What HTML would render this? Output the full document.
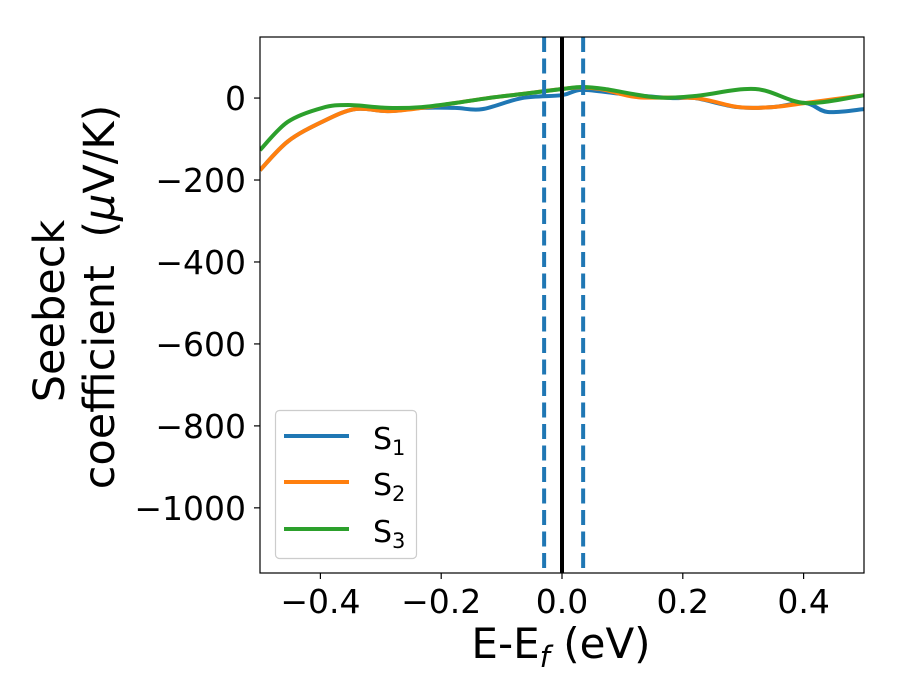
<!DOCTYPE html>
<html><head><meta charset="utf-8"><style>
body{margin:0;background:#fff;}
svg{display:block;font-family:"DejaVu Sans","Liberation Sans",sans-serif;}
</style></head><body>
<svg id="chart" width="900" height="700" viewBox="0 0 900 700">
<rect width="900" height="700" fill="#fff"/>
<g id="marks"></g>
<g id="axes"></g>
</svg>
<script>
const xTicks=[-0.4,-0.2,0.0,0.2,0.4];
const xTickLabels=["\u22120.4","\u22120.2","0.0","0.2","0.4"];
const yTicks=[0,-200,-400,-600,-800,-1000];
const yTickLabels=["0","\u2212200","\u2212400","\u2212600","\u2212800","\u22121000"];
const s1x=[-0.5,-0.454,-0.397,-0.343,-0.288,-0.232,-0.177,-0.132,-0.066,0.0,0.033,0.1,0.18,0.22,0.29,0.348,0.403,0.44,0.5];
const s1y=[-176,-106,-58,-27,-32,-24,-24,-27,0,7,20,10,0,0,-22,-22,-12,-34,-27];
const s2x=[-0.5,-0.454,-0.397,-0.343,-0.288,-0.232,-0.177,-0.122,-0.066,0.0,0.033,0.071,0.126,0.22,0.292,0.348,0.403,0.45,0.5];
const s2y=[-176,-106,-58,-27,-32,-24,-12,0,10,22,26,20,2,0,-22,-22,-12,-3,7];
const s3x=[-0.5,-0.454,-0.397,-0.354,-0.288,-0.232,-0.177,-0.122,-0.066,0.0,0.033,0.071,0.154,0.22,0.32,0.403,0.5];
const s3y=[-127,-58,-24,-17,-24,-22,-12,0,10,22,27,22,2,5,22,-12,7];
const vlines=[-0.0296,0.035];
const xMin=-0.5,xMax=0.5,yMin=-1159,yMax=149;
const L=260,R=864,T=37,B=573;
const X=v=>L+(v-xMin)/(xMax-xMin)*(R-L);
const Y=v=>T+(yMax-v)/(yMax-yMin)*(B-T);
const NS="http://www.w3.org/2000/svg";
function mk(tag,attrs,parent){const e=document.createElementNS(NS,tag);for(const k in attrs)e.setAttribute(k,attrs[k]);parent.appendChild(e);return e;}
function pathD(xs,ys){const p=xs.map((x,i)=>[X(x),Y(ys[i])]);let d="M"+p[0][0]+","+p[0][1];
for(let i=0;i<p.length-1;i++){const p0=p[i-1]||p[i],p1=p[i],p2=p[i+1],p3=p[i+2]||p2;
const c1=[p1[0]+(p2[0]-p0[0])/6,p1[1]+(p2[1]-p0[1])/6],c2=[p2[0]-(p3[0]-p1[0])/6,p2[1]-(p3[1]-p1[1])/6];
d+=" C"+c1+" "+c2+" "+p2;}return d;}
const marks=document.getElementById('marks');
const axes=document.getElementById('axes');
const cp=mk('clipPath',{id:'clip'},marks);mk('rect',{x:L,y:T,width:R-L,height:B-T},cp);
const series=[[s1x,s1y,'#1f77b4','series-s1'],[s2x,s2y,'#ff7f0e','series-s2'],[s3x,s3y,'#2ca02c','series-s3']];
series.forEach(s=>{const p=mk('path',{d:pathD(s[0],s[1]),fill:'none',stroke:s[2],'stroke-width':4,'clip-path':'url(#clip)'},marks);

});
vlines.forEach((v,i)=>{const l=mk('line',{x1:X(v),x2:X(v),y1:T,y2:B,stroke:'#1f77b4','stroke-width':4,'stroke-dasharray':'15,6.5'},marks);

});
const fl=mk('line',{x1:X(0),x2:X(0),y1:T,y2:B,stroke:'#000','stroke-width':4},marks);


const fr=mk('rect',{x:L,y:T,width:R-L,height:B-T,fill:'none',stroke:'#000','stroke-width':1.2},axes);


xTicks.forEach((v,i)=>{mk('line',{x1:X(v),x2:X(v),y1:B,y2:B+6,stroke:'#000','stroke-width':1.2},axes);
const t=mk('text',{x:X(v),y:B+40,'text-anchor':'middle','font-size':33},axes);t.textContent=xTickLabels[i];

});
yTicks.forEach((v,i)=>{mk('line',{x1:L-6,x2:L,y1:Y(v),y2:Y(v),stroke:'#000','stroke-width':1.2},axes);
const t=mk('text',{x:L-14,y:Y(v)+12,'text-anchor':'end','font-size':33},axes);t.textContent=yTickLabels[i];

});
</script>
<script>
const svg=document.getElementById('chart');
svg.insertAdjacentHTML('beforeend',`
<text x="561" y="658" text-anchor="middle" font-size="42">E-E<tspan font-style="italic" font-size="29" dy="9">f</tspan><tspan dy="-9"> (eV)</tspan></text>
<g transform="rotate(-90)" font-size="43" text-anchor="middle">
<text x="-311" y="64">Seebeck</text>
<text x="-297" y="114">coefficient&#160; (<tspan font-style="italic">μ</tspan>V/K)</text>
</g>
<g>
<rect x="275.5" y="410.5" width="141" height="148" rx="4" fill="#fff" fill-opacity="0.8" stroke="#ccc" stroke-width="1.2"/>
<g><line x1="284" x2="349" y1="436" y2="436" stroke="#1f77b4" stroke-width="4"/><text x="373" y="449" font-size="30">S<tspan font-size="21" dy="6">1</tspan></text></g>
<g><line x1="284" x2="349" y1="482" y2="482" stroke="#ff7f0e" stroke-width="4"/><text x="373" y="495" font-size="30">S<tspan font-size="21" dy="6">2</tspan></text></g>
<g><line x1="284" x2="349" y1="529" y2="529" stroke="#2ca02c" stroke-width="4"/><text x="373" y="542" font-size="30">S<tspan font-size="21" dy="6">3</tspan></text></g>
</g>`);
</script>
</body></html>
